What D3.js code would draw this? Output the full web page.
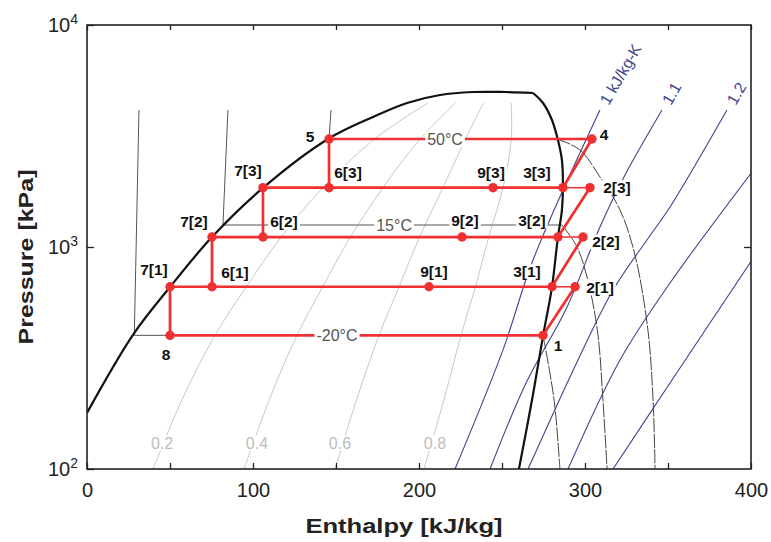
<!DOCTYPE html>
<html>
<head>
<meta charset="utf-8">
<script src="https://cdn.jsdelivr.net/npm/d3@7"></script>
<style>
  body { margin: 0; background: #fff; }
  svg { font-family: "Liberation Sans", Arial, sans-serif; }
</style>
</head>
<body>
<div class="chart"></div>
<script>
// saturation dome, [h kJ/kg, P kPa]
var domeLiquid = [[0, 179], [27.7, 402], [50, 660], [75.3, 1109], [106, 1845], [145.2, 3065],
  [172.3, 3851], [192.8, 4453], [212.7, 4838], [232.5, 4990], [251.8, 4990], [268.7, 4940]];
var domeVapor = [[268.7, 4940], [274.7, 4453], [280.1, 3734], [283.7, 3034], [286.1, 2465],
  [286.7, 1864], [286.1, 1468], [283.7, 1109], [280.1, 660], [274.7, 397], [268.1, 205], [260.2, 100]];

// quality lines
var qualityNames = ["0.2", "0.4", "0.6", "0.8"];
var qualityLines = [
  [[39.8, 100], [57.2, 205], [77.1, 400], [96, 662], [117, 1109], [142.1, 1850], [173.2, 3065], [205.3, 4453]],
  [[94.6, 100], [109.8, 205], [126.5, 400], [142, 662], [158.7, 1109], [178.3, 1850], [200.7, 3065], [222, 4453]],
  [[149.4, 100], [162.4, 205], [175.9, 400], [188, 662], [200.3, 1109], [214.4, 1850], [228, 3065], [238.8, 4453]],
  [[203, 100], [215, 205], [225.3, 400], [234, 662], [242, 1109], [250.6, 1850], [255.6, 3065], [255.5, 4453]]
];
var qualityLabelH = [45.2, 102.4, 152.4, 209.6];
var qualityLabelP = 131;

// entropy lines
var entropyNames = ["1 kJ/kg-K", "1.1", "1.2", "", ""];
var entropyLines = [
  [[221.7, 100], [250.6, 344], [268.7, 874], [309, 4140]],
  [[242.8, 100], [264.5, 244], [289.2, 537], [309, 1231], [324.1, 2110], [346.4, 4140]],
  [[265.7, 100], [295.8, 310], [316.9, 640], [337.3, 1076], [351.2, 1514], [385.5, 4140]],
  [[289.8, 100], [321.1, 310], [351.2, 688], [400.6, 2177]],
  [[316.9, 100], [351.2, 244], [400.6, 874]]
];

// isotherms: liquid + two-phase part, superheated part
var tempNames = ["-20°C", "15°C", "50°C"];
var isoLiquid = [
  [[31.3, 4140], [28.5, 400], [274.7, 400]],
  [[84.9, 4140], [81.9, 1256], [286.1, 1256]],
  [[147, 4140], [145.8, 3065], [283.1, 3065]]
];
var isoVapor = [
  [[274.7, 400], [278.9, 270], [281.9, 190], [284.9, 100]],
  [[286.1, 1256], [295.2, 1000], [302.4, 674], [307.8, 402], [310.8, 205], [313.3, 100]],
  [[283.1, 3065], [297, 2735], [309, 2067], [321.1, 1468], [330.1, 920], [337.9, 423], [341, 205], [342.2, 100]]
];
var tempLabelH = [150.6, 185, 215.7];
var tempLabelP = [400, 1256, 3065];

// cycle state points
var pointNames = ["1", "2[1]", "3[1]", "9[1]", "6[1]", "7[1]", "8",
  "2[2]", "3[2]", "9[2]", "6[2]", "7[2]",
  "2[3]", "3[3]", "9[3]", "6[3]", "7[3]", "4", "5"];
var pointH = [274.7, 294.0, 280.1, 206.0, 75.3, 50.0, 50.0,
  298.8, 283.7, 225.9, 106.0, 75.3,
  303.0, 286.7, 244.6, 145.8, 106.0, 304.2, 145.8];
var pointP = [400, 662, 662, 662, 662, 662, 400,
  1109, 1109, 1109, 1109, 1109,
  1850, 1850, 1850, 1850, 1850, 3065, 3065];

var cycleLines = [
  ["8", "1"], ["7[1]", "3[1]"], ["7[2]", "3[2]"], ["7[3]", "3[3]"], ["5", "4"],
  ["7[1]", "8"], ["6[1]", "7[2]"], ["6[2]", "7[3]"], ["6[3]", "5"],
  ["1", "2[1]"], ["3[1]", "2[2]"], ["3[2]", "2[3]"], ["3[3]", "4"]
];
var mixLines = [["3[1]", "2[1]"], ["3[2]", "2[2]"], ["3[3]", "2[3]"]];

var xTicks = [0, 50, 100, 150, 200, 250, 300, 350, 400];
var yTicks = [100, 1000, 10000];

// label offsets (px) from each point
var labelOffset = {
  "1": [15, 10], "2[1]": [25, 1], "2[2]": [23, 5], "2[3]": [27, 0], "4": [12, -4],
  "3[1]": [-25, -15], "3[2]": [-26, -16], "3[3]": [-26, -15],
  "9[1]": [5, -15], "9[2]": [3, -16], "9[3]": [-2, -15],
  "6[1]": [23, -14], "6[2]": [21, -15], "6[3]": [19, -15],
  "7[1]": [-16, -17], "7[2]": [-18, -15], "7[3]": [-15, -17],
  "5": [-19, -2], "8": [-4, 19]
};

var width = 771, height = 542;
var margin = { left: 87, top: 25 };
var w = 664, h = 444;

var svg = d3.select(".chart").append("svg")
  .attr("width", width).attr("height", height);
var chart = svg.append("g").attr("transform", `translate(${margin.left},${margin.top})`);

var x = d3.scaleLinear().domain([0, 400]).range([0, w]);
var y = d3.scaleLog().domain([100, 10000]).range([h, 0]);

svg.append("clipPath").attr("id", "plot").append("rect").attr("width", w).attr("height", h);
var plot = chart.append("g").attr("clip-path", "url(#plot)");

var lin = d3.line().x(d => x(d[0])).y(d => y(d[1]));
var smooth = d3.line().x(d => x(d[0])).y(d => y(d[1])).curve(d3.curveCatmullRom.alpha(0.5));

// quality lines
plot.selectAll(".q").data(qualityLines).enter().append("path")
  .attr("d", smooth).attr("fill", "none").attr("stroke", "#c8c8c8").attr("stroke-width", 1);

// entropy lines
plot.selectAll(".s").data(entropyLines).enter().append("path")
  .attr("d", smooth).attr("fill", "none").attr("stroke", "#42428f").attr("stroke-width", 1.1);

// isotherms
plot.selectAll(".tl").data(isoLiquid).enter().append("path")
  .attr("d", lin).attr("fill", "none").attr("stroke", "#555").attr("stroke-width", 1);
plot.selectAll(".tv").data(isoVapor).enter().append("path")
  .attr("d", smooth).attr("fill", "none").attr("stroke", "#444").attr("stroke-width", 1)
  .attr("stroke-dasharray", "14,1.5");

// dome
plot.append("path").datum(domeLiquid).attr("d", smooth)
  .attr("fill", "none").attr("stroke", "#111").attr("stroke-width", 2.2);
plot.append("path").datum(domeVapor).attr("d", smooth)
  .attr("fill", "none").attr("stroke", "#111").attr("stroke-width", 2.2);

// text with a white box behind it
function boxedText(g, tx, ty, str, size, color, weight) {
  var t = g.append("text").attr("x", tx).attr("y", ty).attr("dy", "0.35em")
    .attr("text-anchor", "middle").attr("font-size", size).attr("fill", color)
    .attr("font-weight", weight || "normal").text(str);
  var b = t.node().getBBox();
  g.insert("rect", function () { return t.node(); })
    .attr("x", b.x - 2).attr("y", b.y + 1).attr("width", b.width + 4).attr("height", b.height - 2)
    .attr("fill", "#fff");
  return t;
}
var labels = chart.append("g");
qualityNames.forEach(function (q, i) {
  boxedText(labels, x(qualityLabelH[i]), y(qualityLabelP), q, 16, "#bdbdbd");
});

// entropy labels
entropyLines.forEach(function (line, i) {
  if (!entropyNames[i]) return;
  var top = line[line.length - 1];
  var px = x(top[0]), py = y(top[1]);
  var a = -60 * Math.PI / 180;
  labels.append("text")
    .attr("transform", `translate(${px + 8 * Math.cos(a)},${py + 8 * Math.sin(a)}) rotate(-60)`)
    .attr("dy", "0.35em").attr("font-size", 16).attr("fill", "#42428f").text(entropyNames[i]);
});

// cycle
var pts = {};
pointNames.forEach(function (n, i) { pts[n] = [pointH[i], pointP[i]]; });
var cycle = chart.append("g");
cycle.selectAll(".c").data(cycleLines).enter().append("line")
  .attr("x1", d => x(pts[d[0]][0])).attr("y1", d => y(pts[d[0]][1]))
  .attr("x2", d => x(pts[d[1]][0])).attr("y2", d => y(pts[d[1]][1]))
  .attr("stroke", "#f03030").attr("stroke-width", 2.7);
cycle.selectAll(".m").data(mixLines).enter().append("line")
  .attr("x1", d => x(pts[d[0]][0])).attr("y1", d => y(pts[d[0]][1]))
  .attr("x2", d => x(pts[d[1]][0])).attr("y2", d => y(pts[d[1]][1]))
  .attr("stroke", "#f03030").attr("stroke-width", 1.5);

// temperature labels over lines
tempNames.forEach(function (t, i) {
  boxedText(cycle, x(tempLabelH[i]), y(tempLabelP[i]), t, 16, "#555");
});

cycle.selectAll("circle").data(pointNames).enter().append("circle")
  .attr("cx", d => x(pts[d][0])).attr("cy", d => y(pts[d][1])).attr("r", 4.7)
  .attr("fill", "#f03030");

pointNames.forEach(function (n) {
  var o = labelOffset[n];
  boxedText(cycle, x(pts[n][0]) + o[0], y(pts[n][1]) + o[1], n, 15.5, "#111", "bold");
});

// axes
var xAxisB = d3.axisBottom(x).tickValues(xTicks).tickSizeInner(-6).tickSizeOuter(0).tickPadding(14)
  .tickFormat(d => d % 100 === 0 ? d : "");
chart.append("g").attr("transform", `translate(0,${h})`).call(xAxisB);
var xAxisT = d3.axisTop(x).tickValues(xTicks).tickSizeInner(-5).tickSizeOuter(0).tickFormat("");
chart.append("g").call(xAxisT);
var yAxisL = d3.axisLeft(y).tickValues(yTicks).tickSizeInner(-7).tickSizeOuter(0).tickPadding(9)
  .tickFormat("");
var gy = chart.append("g").call(yAxisL);
gy.selectAll(".tick text").each(function (d) {
  var t = d3.select(this);
  t.append("tspan").text("10");
  t.append("tspan").attr("dy", "-0.55em").attr("font-size", 14).text(Math.round(Math.log10(d)));
});
var yAxisR = d3.axisRight(y).tickValues([1000]).tickSizeInner(-7).tickSizeOuter(0).tickFormat("");
chart.append("g").attr("transform", `translate(${w},0)`).call(yAxisR);

chart.selectAll(".domain").remove();
chart.selectAll(".tick line").attr("stroke", "#222").attr("stroke-width", 1.3);
chart.selectAll(".tick text").attr("font-size", 20).attr("fill", "#222")
  .attr("font-family", "Liberation Sans, Arial, sans-serif");

chart.append("rect").attr("width", w).attr("height", h)
  .attr("fill", "none").attr("stroke", "#222").attr("stroke-width", 1.6);

svg.append("text").attr("x", 404).attr("y", 533).attr("text-anchor", "middle")
  .attr("font-size", 21).attr("font-weight", "bold").attr("fill", "#222")
  .attr("textLength", 197).attr("lengthAdjust", "spacingAndGlyphs").text("Enthalpy [kJ/kg]");
svg.append("text").attr("transform", "translate(33,257) rotate(-90)").attr("text-anchor", "middle")
  .attr("font-size", 21).attr("font-weight", "bold").attr("fill", "#222")
  .attr("textLength", 175).attr("lengthAdjust", "spacingAndGlyphs").text("Pressure [kPa]");
</script>
</body>
</html>
